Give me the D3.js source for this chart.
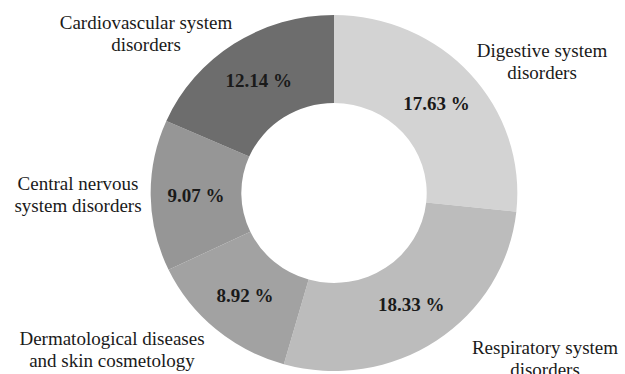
<!DOCTYPE html>
<html>
<head>
<meta charset="utf-8">
<script src="https://cdn.jsdelivr.net/npm/d3@7"></script>
<style>
  html, body { margin: 0; padding: 0; background: #fff; }
  svg { display: block; }
</style>
</head>
<body>
<svg id="chart" width="625" height="374"></svg>
<script>
// Share of each disorder group (percent)
const categories = [
  "Digestive system disorders",
  "Respiratory system disorders",
  "Dermatological diseases and skin cosmetology",
  "Central nervous system disorders",
  "Cardiovascular system disorders"
];
const values = [17.63, 18.33, 8.92, 9.07, 12.14];
const labelLines = [
  ["Digestive system", "disorders"],
  ["Respiratory system", "disorders"],
  ["Dermatological diseases", "and skin cosmetology"],
  ["Central nervous", "system disorders"],
  ["Cardiovascular system", "disorders"]
];
const fills = ["#d3d3d3", "#bcbcbc", "#a2a2a2", "#969696", "#6d6d6d"];

const W = 625, H = 374;
const cx = 334, cy = 193;
const outerR = 178, innerR = 90;
const sx = 1.03; // slight horizontal stretch of the ring
const serif = "'Liberation Serif', Tinos, 'Times New Roman', 'DejaVu Serif', serif";

// Category name placement around the ring (centre of first-line block, px offsets from ring centre)
const nameOffsets = [
  [208, -132],
  [211, 165],
  [-222, 156],
  [-256, 1],
  [-188, -160]
];

const svg = d3.select("#chart");
const data = categories.map((c, i) => ({ name: c, value: values[i], lines: labelLines[i], fill: fills[i], off: nameOffsets[i] }));

const pie = d3.pie().value(d => d.value).sort(null);
const arc = d3.arc().innerRadius(innerR).outerRadius(outerR);
const arcs = pie(data);

const ring = svg.append("g").attr("transform", `translate(${cx},${cy}) scale(${sx},1)`);
ring.selectAll("path")
  .data(arcs)
  .enter().append("path")
  .attr("d", arc)
  .attr("fill", d => d.data.fill);

// Percent values inside each slice
svg.append("g").selectAll("text")
  .data(arcs)
  .enter().append("text")
  .attr("x", d => cx + arc.centroid(d)[0] * sx)
  .attr("y", d => cy + arc.centroid(d)[1])
  .attr("dy", "0.35em")
  .attr("text-anchor", "middle")
  .attr("font-family", serif)
  .attr("font-weight", "bold")
  .attr("font-size", 19)
  .attr("fill", "#1a1a1a")
  .text(d => d3.format(".2f")(d.data.value) + " %");

// Category names
const lineH = 22;
const names = svg.append("g").selectAll("text")
  .data(data)
  .enter().append("text")
  .attr("text-anchor", "middle")
  .attr("font-family", serif)
  .attr("font-size", 19)
  .attr("fill", "#1a1a1a")
  .attr("x", d => cx + d.off[0])
  .attr("y", d => cy + d.off[1] - lineH / 2);
names.selectAll("tspan")
  .data(d => d.lines.map(l => ({ l, x: cx + d.off[0] })))
  .enter().append("tspan")
  .attr("x", t => t.x)
  .attr("dy", (t, i) => i === 0 ? "0.35em" : lineH)
  .text(t => t.l);
</script>
</body>
</html>
